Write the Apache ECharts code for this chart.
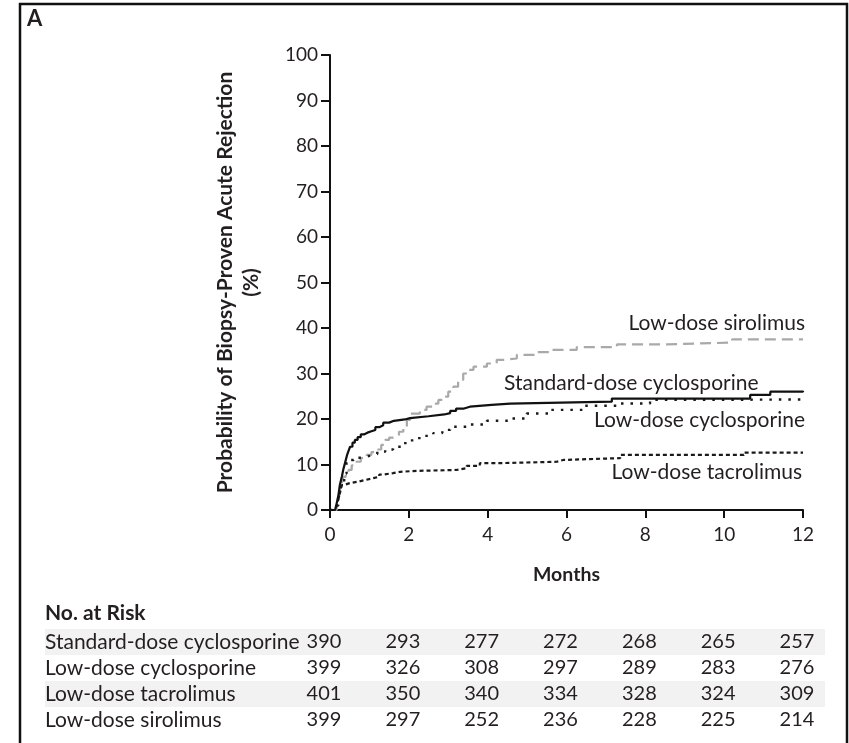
<!DOCTYPE html>
<html>
<head>
<meta charset="utf-8">
<script src="https://cdn.jsdelivr.net/npm/echarts@6/dist/echarts.min.js"></script>
<style>
html,body{margin:0;padding:0;background:#fff;}
#c{width:849px;height:743px;}
</style>
</head>
<body>
<div id="c"></div>
<script>
// ---- Data ----
const stdCycMonths = [0,0.13,0.17,0.21,0.25,0.3,0.34,0.38,0.43,0.47,0.51,0.57,0.63,0.7,0.78,0.86,0.95,1.05,1.15,1.25,1.35,1.5,1.62,1.9,2.03,2.5,2.9,3.05,3.2,3.4,3.55,4.1,4.57,7.15,10.66,11.17,12];
const stdCycValues = [0,0,1.5,3,5.5,7.3,9,10.3,12,13,13.9,14.8,15.4,16,16.6,17,17.3,17.6,18.2,18.6,19.2,19.6,19.9,20.2,20.6,21,21.3,21.8,22.3,22.7,23.1,23.4,23.8,24.5,25.3,26,26.2];

const lowCycMonths = [0,0.1,0.15,0.21,0.25,0.3,0.36,0.42,0.5,0.6,0.8,1.0,1.2,1.4,1.6,1.8,2.0,2.2,2.4,2.62,2.85,3.05,3.47,3.98,4.57,4.99,5.58,6.43,7.28,8.12,9.5,12];
const lowCycValues = [0,0,1,2.2,4,5.9,8,10.3,11,11.5,11.9,12.3,12.8,13.3,13.9,14.7,15.3,15.8,16.3,16.9,17.6,18.3,18.8,19.6,20.1,21.2,22,22.9,23.4,24.2,24.3,24.3];

const lowTacMonths = [0,0.12,0.17,0.21,0.26,0.3,0.36,0.5,0.7,0.9,1.1,1.25,1.35,1.6,1.78,2.2,3.2,3.47,3.8,4.3,5.75,5.92,7.36,10.5,12];
const lowTacValues = [0,0,1,2.2,4,5.5,5.9,6.2,6.6,7,7.3,7.8,8.1,8.4,8.6,8.8,9.2,9.7,10.3,10.6,11,11.4,12.1,12.6,12.6];

const lowSirMonths = [0,0.1,0.17,0.21,0.25,0.3,0.34,0.4,0.47,0.55,0.63,0.78,0.93,1.05,1.18,1.3,1.4,1.5,1.61,1.75,1.86,1.95,2.03,2.28,2.45,2.62,2.75,2.88,3.0,3.13,3.25,3.38,3.5,3.64,3.98,4.23,4.4,4.74,5.2,5.58,6.26,7.28,8.55,10.2,12];
const lowSirValues = [0,0,1.5,3,4.4,6,7.3,8,8.8,9.8,10.6,11.4,12.1,12.7,13.3,14.3,15.4,15.9,16.3,17.2,18.3,19.8,21.2,22,22.7,23.4,24.2,24.9,26,27.1,28.6,30,30.8,31.5,32.2,33,33.3,34.1,34.7,35.2,35.8,36.4,36.8,37.5,37.5];

const seriesNames = ['Standard-dose cyclosporine','Low-dose cyclosporine','Low-dose tacrolimus','Low-dose sirolimus'];
const yTicks = [0,10,20,30,40,50,60,70,80,90,100];
const xTicks = [0,2,4,6,8,10,12];

const riskMonths = [0,2,4,6,8,10,12];
const riskStdCyc = [390,293,277,272,268,265,257];
const riskLowCyc = [399,326,308,297,289,283,276];
const riskLowTac = [401,350,340,334,328,324,309];
const riskLowSir = [399,297,252,236,228,225,214];

// ---- Chart ----
const FONT = 'Lato, "Open Sans", sans-serif';
const TXT = '#231f20';
const chart = echarts.init(document.getElementById('c'), null, {renderer:'canvas'});

function pairs(xs, ys){ return xs.map((x,i)=>[x, ys[i]]); }

const option = {
  animation:false,
  backgroundColor:'#fff',
  textStyle:{fontFamily:FONT, color:TXT},
  grid:{left:330, right:46, top:55, bottom:233, containLabel:false},
  xAxis:{
    type:'value', min:0, max:12, interval:2,
    name:'Months', nameLocation:'middle', nameGap:55,
    nameTextStyle:{fontFamily:FONT, fontSize:19.5, fontWeight:'bold', color:TXT},
    axisLine:{show:true, onZero:false, lineStyle:{color:'#111', width:2}},
    axisTick:{show:true, inside:false, length:8, lineStyle:{color:'#111', width:2}},
    axisLabel:{fontFamily:FONT, fontSize:19, color:TXT, margin:15},
    splitLine:{show:false}
  },
  yAxis:{
    type:'value', min:0, max:100, interval:10,
    name:'Probability of Biopsy-Proven Acute Rejection\n(%)',
    nameLocation:'middle', nameGap:66,
    nameTextStyle:{fontFamily:FONT, fontSize:21, fontWeight:'bold', color:TXT, lineHeight:26},
    axisLine:{show:true, onZero:false, lineStyle:{color:'#111', width:2}},
    axisTick:{show:true, inside:false, length:9, lineStyle:{color:'#111', width:2}},
    axisLabel:{fontFamily:FONT, fontSize:19, color:TXT, margin:12},
    splitLine:{show:false}
  },
  series:[
    {name:seriesNames[3], type:'line', step:'end', symbol:'none', data:pairs(lowSirMonths, lowSirValues),
      lineStyle:{color:'#a9a9a9', width:2.2, type:[11,6]}, z:2},
    {name:seriesNames[2], type:'line', step:'end', symbol:'none', data:pairs(lowTacMonths, lowTacValues),
      lineStyle:{color:'#1a1a1a', width:2.2, type:[4,3]}, z:3},
    {name:seriesNames[1], type:'line', step:'end', symbol:'none', data:pairs(lowCycMonths, lowCycValues),
      lineStyle:{color:'#1a1a1a', width:2.4, type:[2.5,7]}, z:4},
    {name:seriesNames[0], type:'line', step:'end', symbol:'none', data:pairs(stdCycMonths, stdCycValues),
      lineStyle:{color:'#111', width:2.2}, z:5}
  ]
};
chart.setOption(option);

// ---- Annotations and risk table ----
const g = [];
// frame
g.push({type:'rect', shape:{x:20, y:4, width:827, height:760}, style:{fill:'none', stroke:'#111', lineWidth:2.5}, silent:true});
// panel letter
g.push({type:'text', left:27, top:8, style:{text:'A', font:'bold 22px '+FONT, fill:TXT}});
// curve labels
function lbl(text, x, y, align){
  g.push({type:'text', x:x, y:y, style:{text:text, font:'21px '+FONT, fill:TXT, textAlign:align, textVerticalAlign:'middle'}});
}
lbl('Low-dose sirolimus', 805, 323, 'right');
lbl('Standard-dose cyclosporine', 504, 383, 'left');
lbl('Low-dose cyclosporine', 805, 420, 'right');
lbl('Low-dose tacrolimus', 802, 472, 'right');

// table
g.push({type:'text', x:45, y:613, style:{text:'No. at Risk', font:'bold 21px '+FONT, fill:TXT, textVerticalAlign:'middle'}});
const rows = [riskStdCyc, riskLowCyc, riskLowTac, riskLowSir];
const rowY = [642, 668, 694, 720];
rows.forEach((r, i)=>{
  if (i % 2 === 0) {
    g.push({type:'rect', shape:{x:45, y:rowY[i]-13, width:780, height:26}, style:{fill:'#f2f2f2'}, z:-1, silent:true});
  }
  g.push({type:'text', x:45, y:rowY[i], style:{text:seriesNames[i], font:'21px '+FONT, fill:TXT, textVerticalAlign:'middle'}});
  r.forEach((v, j)=>{
    const px = chart.convertToPixel({xAxisIndex:0}, riskMonths[j]) - 6;
    g.push({type:'text', x:px, y:rowY[i], style:{text:String(v), font:'20px '+FONT, fill:TXT, textAlign:'center', textVerticalAlign:'middle'}});
  });
});
chart.setOption({graphic:{elements:g}});
</script>
</body>
</html>
